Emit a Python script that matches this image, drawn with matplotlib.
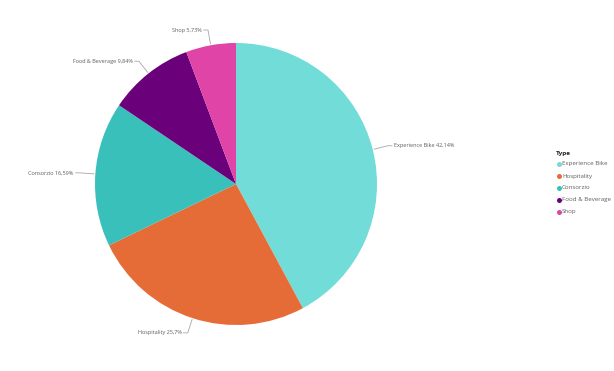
import numpy as np
import matplotlib.pyplot as plt
from matplotlib.lines import Line2D

# Slice data (clockwise from 12 o'clock)
categories = ["Experience Bike", "Hospitality", "Consorzio", "Food & Beverage", "Shop"]
shares = [42.14, 25.7, 16.59, 9.84, 5.73]
share_labels = ["42,14%", "25,7%", "16,59%", "9,84%", "5,73%"]
colors = ["#71DCD8", "#E66C37", "#3AC0BB", "#6B007B", "#E044A7"]

plt.rcParams['font.family'] = ['Open Sans', 'DejaVu Sans']

fig = plt.figure(figsize=(6.14, 3.71), dpi=100)
W, H = 614, 371
cx, cy, r = 236, 184, 141
ax = fig.add_axes([(cx - r) / W, (H - cy - r) / H, 2 * r / W, 2 * r / H])

wedges, _ = ax.pie(shares, colors=colors, startangle=90, counterclock=False,
                   radius=1, wedgeprops=dict(linewidth=0))
ax.set_xlim(-1, 1)
ax.set_ylim(-1, 1)
ax.set_aspect('equal')
ax.axis('off')

# leader lines + labels
for w, cat, lab in zip(wedges, categories, share_labels):
    ang = np.deg2rad((w.theta1 + w.theta2) / 2)
    x0, y0 = np.cos(ang), np.sin(ang)
    x1, y1 = 1.11 * x0, 1.11 * y0
    side = 1 if x0 > 0 else -1
    x2 = x1 + side * 0.03
    ax.plot([x0 * 1.01, x1, x2], [y0 * 1.01, y1, y1], color="#A6A6A6",
            lw=0.6, clip_on=False)
    ax.text(x2 + side * 0.015, y1, f"{cat} {lab}", fontsize=4.0, color="#605E5C",
            ha='left' if side > 0 else 'right', va='center', clip_on=False)

# legend
fig.text(556 / W, 1 - 154 / H, "Type", fontsize=4.6, fontweight='bold',
         color="#252423", va='center')
for i, (cat, c) in enumerate(zip(categories, colors)):
    yy = 1 - (164 + 12 * i) / H
    fig.add_artist(Line2D([558.5 / W], [yy], marker='o', ms=3.6, color=c,
                          markeredgewidth=0, transform=fig.transFigure))
    fig.text(562 / W, yy, cat, fontsize=4.4, color="#605E5C", va='center')

fig.savefig("out.png", dpi=100)
